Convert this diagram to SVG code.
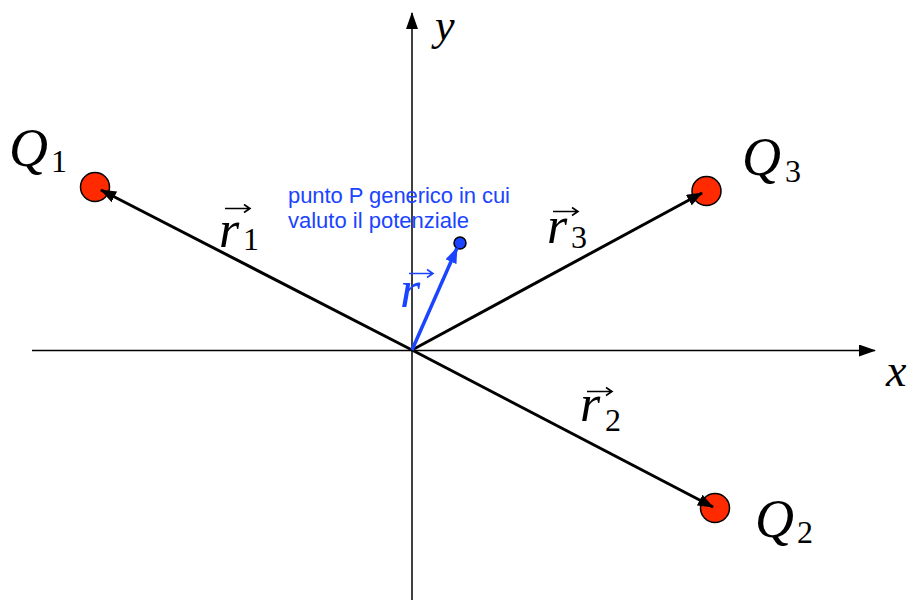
<svg xmlns="http://www.w3.org/2000/svg" width="909" height="601" viewBox="0 0 909 601">
<style>
.math{font-family:"Liberation Serif","Times New Roman",serif;font-style:italic;font-size:54px;fill:#000}
.r{font-size:52px}
.sub{font-style:normal;font-size:32px}
.blue{fill:#1a44ff}
.note{font-family:"Liberation Sans",Arial,sans-serif;font-size:22px;fill:#1a44ff}
.axis{stroke:#000;stroke-width:1.5;fill:none}
.vec{stroke:#000;stroke-width:3;fill:none}
.vecb{stroke:#1a44ff;stroke-width:3.5;fill:none}
.acc{stroke:#000;stroke-width:1.6;fill:none}
.charge{fill:#ff2a00;stroke:#000;stroke-width:1.5}
.point{fill:#1a44ff;stroke:#000;stroke-width:1.5}
</style>
<defs>
<marker id="ah" markerUnits="userSpaceOnUse" markerWidth="16" markerHeight="12" refX="15" refY="6" orient="auto">
<path d="M0,0 L16,6 L0,12 z" fill="#000"/>
</marker>
<marker id="ahb" markerUnits="userSpaceOnUse" markerWidth="16" markerHeight="12" refX="15" refY="6" orient="auto">
<path d="M0,0 L16,6 L0,12 z" fill="#1a44ff"/>
</marker>
<marker id="axh" markerUnits="userSpaceOnUse" markerWidth="17" markerHeight="12" refX="16" refY="6" orient="auto">
<path d="M0,0 L17,6 L0,12 z" fill="#000"/>
</marker>
</defs>
<rect width="909" height="601" fill="#fff"/>

<g id="axes">
<line class="axis" x1="32" y1="350.5" x2="875" y2="350.5" marker-end="url(#axh)"/>
<line class="axis" x1="412" y1="600" x2="412" y2="13" marker-end="url(#axh)"/>
<text class="math" style="font-size:44px" x="435" y="40">y</text>
<text class="math" style="font-size:46px" x="886" y="386">x</text>
</g>

<g id="Q1">
<circle class="charge" cx="95" cy="187" r="14.5"/>
<text class="math" x="9" y="166">Q<tspan class="sub" x="51" y="172">1</tspan></text>
</g>
<g id="Q3">
<circle class="charge" cx="706.5" cy="191" r="14.5"/>
<text class="math" x="742" y="175">Q<tspan class="sub" x="785" y="182">3</tspan></text>
</g>
<g id="Q2">
<circle class="charge" cx="715" cy="508" r="14.5"/>
<text class="math" x="755" y="537">Q<tspan class="sub" x="797" y="543">2</tspan></text>
</g>
<g id="P">
<circle class="point" cx="460" cy="243" r="6"/>
<text class="note"><tspan x="288" y="203" textLength="222" lengthAdjust="spacing">punto P generico in cui</tspan><tspan x="288" y="228">valuto il potenziale</tspan></text>
</g>

<g id="connectors">
<line class="vec" x1="412" y1="350" x2="101" y2="190" marker-end="url(#ah)"/>
<line class="vec" x1="412" y1="350" x2="702" y2="193" marker-end="url(#ah)"/>
<line class="vec" x1="412" y1="350" x2="713" y2="507" marker-end="url(#ah)"/>
<line class="vecb" x1="412" y1="350" x2="457" y2="248" marker-end="url(#ahb)"/>
</g>

<g id="labels">
<text class="math r" x="219" y="247">r<tspan class="sub" x="243" y="250">1</tspan></text>
<path class="acc" d="M225,208.5 H249 M244,204.5 L250,208.5 L244,212.5"/>
<text class="math r" x="547" y="243">r<tspan class="sub" x="571" y="248">3</tspan></text>
<path class="acc" d="M553,211.5 H577 M572,207.5 L578,211.5 L572,215.5"/>
<text class="math r" x="580" y="421">r<tspan class="sub" x="605" y="431">2</tspan></text>
<path class="acc" d="M587,391.5 H611 M606,387.5 L612,391.5 L606,395.5"/>
<text class="math r blue" x="400" y="307">r</text>
<path class="acc" style="stroke:#1a44ff" d="M409,273.5 H432 M427,269.5 L433,273.5 L427,277.5"/>
</g>
</svg>
